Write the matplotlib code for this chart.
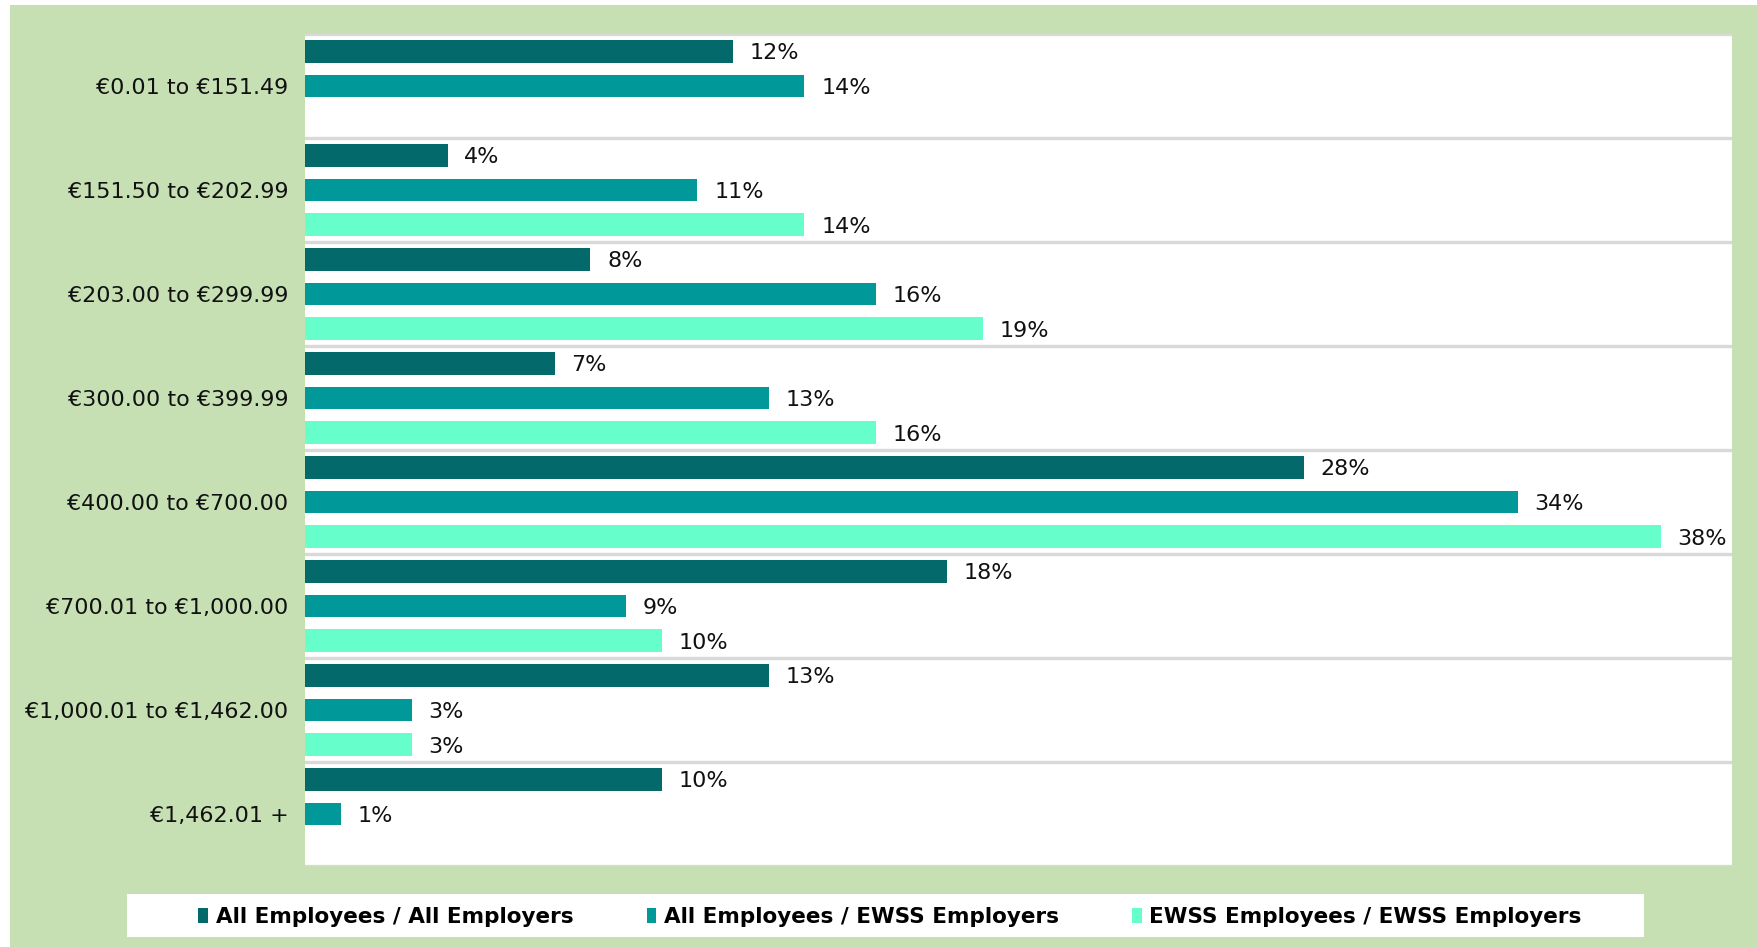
import matplotlib
matplotlib.use("Agg")
import matplotlib.pyplot as plt
from matplotlib.patches import Rectangle, Patch
import numpy as np

categories = ["€0.01 to €151.49", "€151.50 to €202.99", "€203.00 to €299.99",
              "€300.00 to €399.99", "€400.00 to €700.00", "€700.01 to €1,000.00",
              "€1,000.01 to €1,462.00", "€1,462.01 +"]
series_names = ["All Employees / All Employers", "All Employees / EWSS Employers",
                "EWSS Employees / EWSS Employers"]
all_all = [12, 4, 8, 7, 28, 18, 13, 10]
all_ewss = [14, 11, 16, 13, 34, 9, 3, 1]
ewss_ewss = [None, 14, 19, 16, 38, 10, 3, None]
colors = ["#03696A", "#009898", "#66FFCC"]

W, H = 1757, 947
fig = plt.figure(figsize=(W / 100, H / 100), dpi=100, facecolor="white")
fig.patches.append(Rectangle((10 / W, 0), 1, 1 - 5 / H, transform=fig.transFigure,
                             facecolor="#C6E0B4", edgecolor="none", zorder=-10))

left, right, top, bottom = 305, 1732, 34, 866
ax = fig.add_axes([left / W, 1 - bottom / H, (right - left) / W, (bottom - top) / H])
ax.set_zorder(2)
ax.set_facecolor("white")

n = len(categories)
y = np.arange(n)
offsets = [-1 / 3, 0, 1 / 3]
bh = 0.215
for s, (vals, col, off) in enumerate(zip([all_all, all_ewss, ewss_ewss], colors, offsets)):
    for i, v in enumerate(vals):
        if v is None:
            continue
        ax.barh(y[i] + off, v, height=bh, color=col, edgecolor="none", zorder=3)
        ax.annotate(f"{v}%", xy=(v, y[i] + off), xytext=(12, 0), textcoords="offset points",
                    ha="left", va="center_baseline", fontsize=16, color="#111111", zorder=4)

ax.set_xlim(0, 40)
ax.set_ylim(n - 0.5, -0.5)
for b in np.arange(-0.5, n + 0.5, 1):
    ax.axhline(b, color="#D9D9D9", lw=2.4, zorder=2)
ax.set_yticks(y)
ax.set_yticklabels(categories, fontsize=16, color="#111111")
ax.tick_params(axis="y", length=0, pad=12)
ax.set_xticks([])
for sp in ax.spines.values():
    sp.set_visible(False)

# legend box
fig.patches.append(Rectangle((127 / W, 1 - 937 / H), (1644 - 127) / W, (937 - 894) / H,
                             transform=fig.transFigure, facecolor="white", edgecolor="none", zorder=-5))
handles = [Patch(facecolor=c, edgecolor="none") for c in colors]
leg = fig.legend(handles, series_names, loc="center", bbox_to_anchor=(890 / W, 1 - 917 / H),
                 ncol=3, frameon=False, prop={"weight": "bold", "size": 15.5},
                 handlelength=0.45, handleheight=0.75, handletextpad=0.35, columnspacing=3.4,
                 borderaxespad=0)
leg.set_zorder(5)

fig.savefig("out.png", dpi=100, facecolor="white")
